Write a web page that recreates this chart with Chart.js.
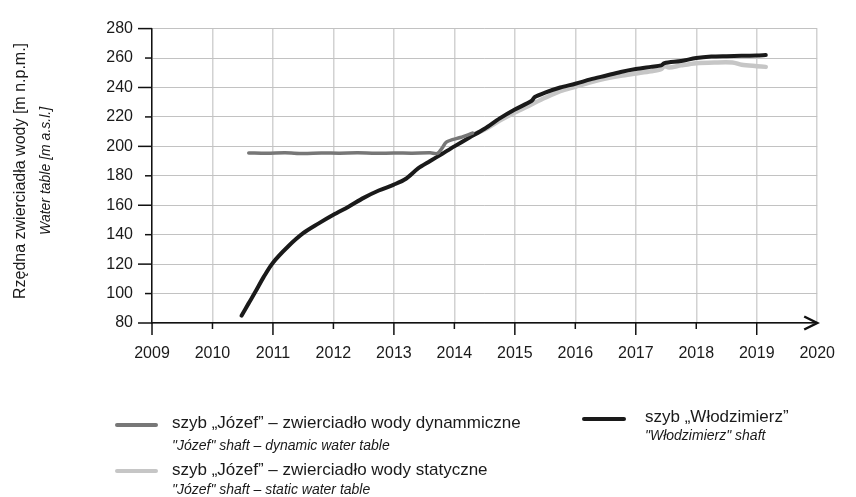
<!DOCTYPE html>
<html>
<head>
<meta charset="utf-8">
<script src="https://cdn.jsdelivr.net/npm/chart.js@4/dist/chart.umd.min.js"></script>
<style>
  body { margin: 0; background: #fff; font-family: "Liberation Sans", Arial, sans-serif; color: #1a1a1a; }
  #wrap { position: relative; width: 856px; height: 497px; }
  #chart { position: absolute; left: 0; top: 0; }
  .t { position: absolute; white-space: nowrap; }
  .rot { transform: translate(-50%, -50%) rotate(-90deg); }
  .main { font-size: 17px; line-height: 20px; }
  .sub { font-size: 14px; line-height: 17px; font-style: italic; }
  .swatch { position: absolute; height: 4px; border-radius: 2px; }
</style>
</head>
<body>
<div id="wrap">
  <canvas id="chart" width="856" height="497"></canvas>

  <div class="t rot" style="left:20px; top:171px; font-size:16px;">Rzędna zwierciadła wody [m n.p.m.]</div>
  <div class="t rot" style="left:45px; top:171px; font-size:14px; font-style:italic;">Water table [m a.s.l.]</div>

  <div class="swatch" style="left:115px; top:423px; width:43px; background:#777;"></div>
  <div class="t main" style="left:172px; top:413px;">szyb „Józef” – zwierciadło wody dynammiczne</div>
  <div class="t sub" style="left:172px; top:437px;">"Józef" shaft – dynamic water table</div>

  <div class="swatch" style="left:115px; top:469px; width:43px; background:#c6c6c6;"></div>
  <div class="t main" style="left:172px; top:460px;">szyb „Józef” – zwierciadło wody statyczne</div>
  <div class="t sub" style="left:172px; top:481px;">"Józef" shaft – static water table</div>

  <div class="swatch" style="left:582px; top:417px; width:44px; background:#1a1a1a;"></div>
  <div class="t main" style="left:645px; top:407px;">szyb „Włodzimierz”</div>
  <div class="t sub" style="left:645px; top:427px;">"Włodzimierz" shaft</div>
</div>

<script>
// years (decimal) and water table levels [m a.s.l.]
const wlodzimierzYears = [2010.48, 2010.6, 2010.7, 2010.85, 2011.0, 2011.25, 2011.5, 2011.75, 2012.0, 2012.25,
  2012.5, 2012.75, 2013.0, 2013.2, 2013.4, 2013.6, 2013.8, 2014.0, 2014.25, 2014.5, 2014.75, 2015.0,
  2015.28, 2015.33, 2015.5, 2015.75, 2016.0, 2016.25, 2016.5, 2016.75, 2017.0, 2017.25, 2017.42,
  2017.47, 2017.75, 2018.0, 2018.25, 2018.5, 2018.75, 2019.0, 2019.15];
const wlodzimierzLevel = [85, 93.5, 100.5, 111.5, 121, 132, 141, 147.5, 153.5, 159,
  165, 170, 174, 178, 185, 190, 195, 200, 206, 212, 219, 225,
  231, 233.5, 236.5, 240, 242.5, 245.5, 248, 250.5, 252.5, 254, 255,
  256.5, 258, 260, 261, 261.3, 261.5, 261.7, 262];

const dynamicYears = [2010.6, 2010.9, 2011.2, 2011.5, 2011.8, 2012.1, 2012.4, 2012.7, 2013.0, 2013.3,
  2013.6, 2013.72, 2013.8, 2013.87, 2014.1, 2014.3];
const dynamicLevel = [195.5, 195.3, 195.6, 195.2, 195.5, 195.4, 195.6, 195.3, 195.5, 195.4,
  195.6, 195.2, 199, 203, 206, 209];

const staticYears = [2014.25, 2014.5, 2014.75, 2015.0, 2015.25, 2015.5, 2015.75, 2016.0, 2016.25, 2016.5,
  2016.75, 2017.0, 2017.25, 2017.42, 2017.47, 2017.55, 2017.75, 2018.0, 2018.3, 2018.6, 2018.75,
  2019.0, 2019.15];
const staticLevel = [207, 211.5, 217.5, 223, 228, 233, 237.5, 240.5, 243.5, 246,
  248, 249.5, 251, 252.5, 254.5, 253.5, 255, 256.5, 257, 257, 255.5,
  254.5, 254];

const yearMin = 2009, yearMax = 2020;
const levelMin = 80, levelMax = 280;

const pairs = (xs, ys) => xs.map((x, i) => ({ x: x, y: ys[i] }));

// black tick marks, alternating long / short, plus the arrow on the x axis
const axisMarks = {
  id: 'axisMarks',
  afterDraw(chart) {
    const ctx = chart.ctx;
    const xs = chart.scales.x, ys = chart.scales.y;
    const left = chart.chartArea.left, bottom = chart.chartArea.bottom, right = chart.chartArea.right;
    ctx.save();
    ctx.strokeStyle = '#111';
    ctx.lineWidth = 1.5;
    ys.ticks.forEach((t, i) => {
      const y = ys.getPixelForValue(t.value);
      const len = i % 2 === 0 ? 14 : 7;
      ctx.beginPath();
      ctx.moveTo(left - len, y);
      ctx.lineTo(left, y);
      ctx.stroke();
    });
    xs.ticks.forEach((t, i) => {
      if (t.value >= yearMax) return;
      const x = xs.getPixelForValue(t.value);
      const len = i % 2 === 0 ? 12 : 6;
      ctx.beginPath();
      ctx.moveTo(x, bottom);
      ctx.lineTo(x, bottom + len);
      ctx.stroke();
    });
    ctx.lineWidth = 2.5;
    ctx.beginPath();
    ctx.moveTo(right - 13, bottom - 6.5);
    ctx.lineTo(right, bottom);
    ctx.lineTo(right - 13, bottom + 6.5);
    ctx.stroke();
    ctx.restore();
  }
};

new Chart(document.getElementById('chart'), {
  type: 'line',
  data: {
    datasets: [
      {
        label: 'szyb „Józef” – zwierciadło wody dynammiczne',
        data: pairs(dynamicYears, dynamicLevel),
        borderColor: '#777777',
        borderWidth: 3.5,
        order: 1,
      },
      {
        label: 'szyb „Włodzimierz”',
        data: pairs(wlodzimierzYears, wlodzimierzLevel),
        borderColor: '#1a1a1a',
        borderWidth: 4,
        order: 2,
      },
      {
        label: 'szyb „Józef” – zwierciadło wody statyczne',
        data: pairs(staticYears, staticLevel),
        borderColor: '#c6c6c6',
        borderWidth: 4.5,
        order: 3,
      },
    ],
  },
  options: {
    responsive: false,
    animation: false,
    events: [],
    elements: {
      point: { radius: 0 },
      line: { tension: 0.3, borderCapStyle: 'round', borderJoinStyle: 'round', fill: false },
    },
    layout: { padding: { top: 23, right: 22, left: 0, bottom: 0 } },
    plugins: {
      legend: { display: false },
      tooltip: { enabled: false },
    },
    scales: {
      x: {
        type: 'linear',
        min: yearMin,
        max: yearMax,
        ticks: {
          stepSize: 1,
          padding: 21,
          color: '#1a1a1a',
          font: { family: '"Liberation Sans", Arial, sans-serif', size: 16 },
          callback: (v) => String(v),
        },
        grid: { color: '#d2d2d2', lineWidth: 1.5, drawTicks: false },
        border: { color: '#111', width: 1.5 },
        afterFit: (s) => { s.height = 174; },
      },
      y: {
        min: levelMin,
        max: levelMax,
        ticks: {
          stepSize: 20,
          padding: 19,
          color: '#1a1a1a',
          font: { family: '"Liberation Sans", Arial, sans-serif', size: 16 },
        },
        grid: { color: '#c2c2c2', lineWidth: 1, drawTicks: false },
        border: { color: '#111', width: 1.5 },
        afterFit: (s) => { s.width = 152; },
      },
    },
  },
  plugins: [axisMarks],
});
</script>
</body>
</html>
